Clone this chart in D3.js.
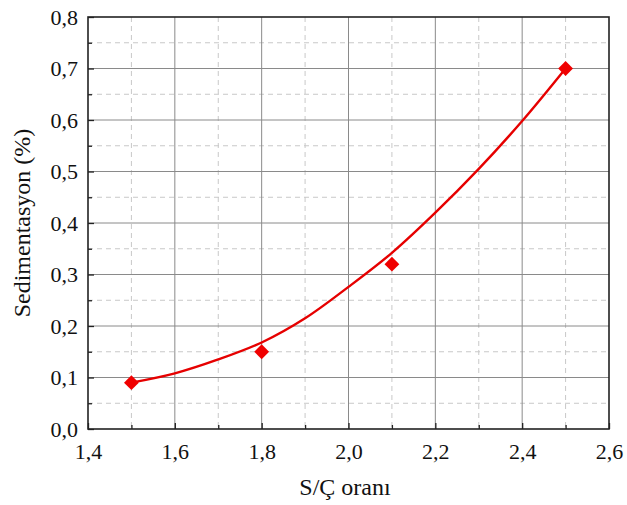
<!DOCTYPE html>
<html><head><meta charset="utf-8">
<script src="https://cdn.jsdelivr.net/npm/d3@7"></script>
<style>body{margin:0;background:#fff} svg text{font-family:'Liberation Serif', serif;}</style>
</head><body><svg id="c" width="627" height="505"></svg>
<script>
const pointX = [1.5, 1.8, 2.1, 2.5];
const pointY = [0.09, 0.15, 0.32, 0.70];
const fitX = [1.5, 1.6, 1.7, 1.8, 1.9, 2.0, 2.1, 2.2, 2.3, 2.4, 2.5];
const fitY = [0.09, 0.108, 0.135, 0.168, 0.215, 0.276, 0.342, 0.42, 0.505, 0.598, 0.70];
const xTicks = [1.4, 1.6, 1.8, 2.0, 2.2, 2.4, 2.6];
const yTicks = [0, 0.1, 0.2, 0.3, 0.4, 0.5, 0.6, 0.7, 0.8];
const xMinor = [1.5, 1.7, 1.9, 2.1, 2.3, 2.5];
const yMinor = [0.05, 0.15, 0.25, 0.35, 0.45, 0.55, 0.65, 0.75];
const xTitle = "S/Ç oranı";
const yTitle = "Sedimentasyon (%)";

const L = 88, R = 609, T = 17, B = 429;
const svg = d3.select("#c");
const x = d3.scaleLinear().domain([1.4, 2.6]).range([L, R]);
const y = d3.scaleLinear().domain([0, 0.8]).range([B, T]);
const fmt = d => d3.format(".1f")(d).replace(".", ",");

const g = svg.append("g");
g.selectAll(".mx").data(xMinor).join("line").attr("x1", d => x(d)).attr("x2", d => x(d))
  .attr("y1", T).attr("y2", B).attr("stroke", "#c8c8c8").attr("stroke-width", 1).attr("stroke-dasharray", "5,4");
g.selectAll(".my").data(yMinor).join("line").attr("y1", d => y(d)).attr("y2", d => y(d))
  .attr("x1", L).attr("x2", R).attr("stroke", "#c8c8c8").attr("stroke-width", 1).attr("stroke-dasharray", "5,4");
g.selectAll(".gx").data(xTicks.slice(1, -1)).join("line").attr("x1", d => x(d)).attr("x2", d => x(d))
  .attr("y1", T).attr("y2", B).attr("stroke", "#8a8a8a").attr("stroke-width", 1);
g.selectAll(".gy").data(yTicks.slice(1, -1)).join("line").attr("y1", d => y(d)).attr("y2", d => y(d))
  .attr("x1", L).attr("x2", R).attr("stroke", "#8a8a8a").attr("stroke-width", 1);

const xAxis = d3.axisBottom(x).tickValues(xTicks).tickFormat(fmt).tickSizeInner(-6).tickSizeOuter(0).tickPadding(14);
const yAxis = d3.axisLeft(y).tickValues(yTicks).tickFormat(fmt).tickSizeInner(-6).tickSizeOuter(0).tickPadding(10);
const xa = svg.append("g").attr("transform", `translate(0,${B})`).call(xAxis);
const ya = svg.append("g").attr("transform", `translate(${L},0)`).call(yAxis);
const xm = svg.append("g").attr("transform", `translate(0,${B})`).call(d3.axisBottom(x).tickValues(xMinor).tickFormat("").tickSizeInner(-4).tickSizeOuter(0));
const ym = svg.append("g").attr("transform", `translate(${L},0)`).call(d3.axisLeft(y).tickValues(yMinor).tickFormat("").tickSizeInner(-4).tickSizeOuter(0));
[xa, ya, xm, ym].forEach(a => { a.select(".domain").remove(); a.attr("font-family", null); a.selectAll("line").attr("stroke", "#222").attr("stroke-width", 1.3); });
[xa, ya].forEach(a => a.selectAll("text").attr("font-size", 22).attr("fill", "#111"));

svg.append("rect").attr("x", L).attr("y", T).attr("width", R - L).attr("height", B - T)
  .attr("fill", "none").attr("stroke", "#222").attr("stroke-width", 1.6);

const fit = fitX.map((v, i) => [v, fitY[i]]);
svg.append("path").datum(fit).attr("fill", "none").attr("stroke", "#e60000").attr("stroke-width", 2.4)
  .attr("d", d3.line().x(d => x(d[0])).y(d => y(d[1])).curve(d3.curveCatmullRom));

const pts = pointX.map((v, i) => [v, pointY[i]]);
svg.selectAll(".pt").data(pts).join("path")
  .attr("transform", d => `translate(${x(d[0])},${y(d[1])}) rotate(45)`)
  .attr("d", d3.symbol(d3.symbolSquare, 110)).attr("fill", "#f00000");

svg.append("text").attr("x", 345).attr("y", 495).attr("text-anchor", "middle").attr("font-size", 24).attr("fill", "#111").text(xTitle);
svg.append("text").attr("transform", `translate(30,${(T + B) / 2}) rotate(-90)`).attr("text-anchor", "middle").attr("font-size", 24).attr("fill", "#111").text(yTitle);
</script></body></html>
